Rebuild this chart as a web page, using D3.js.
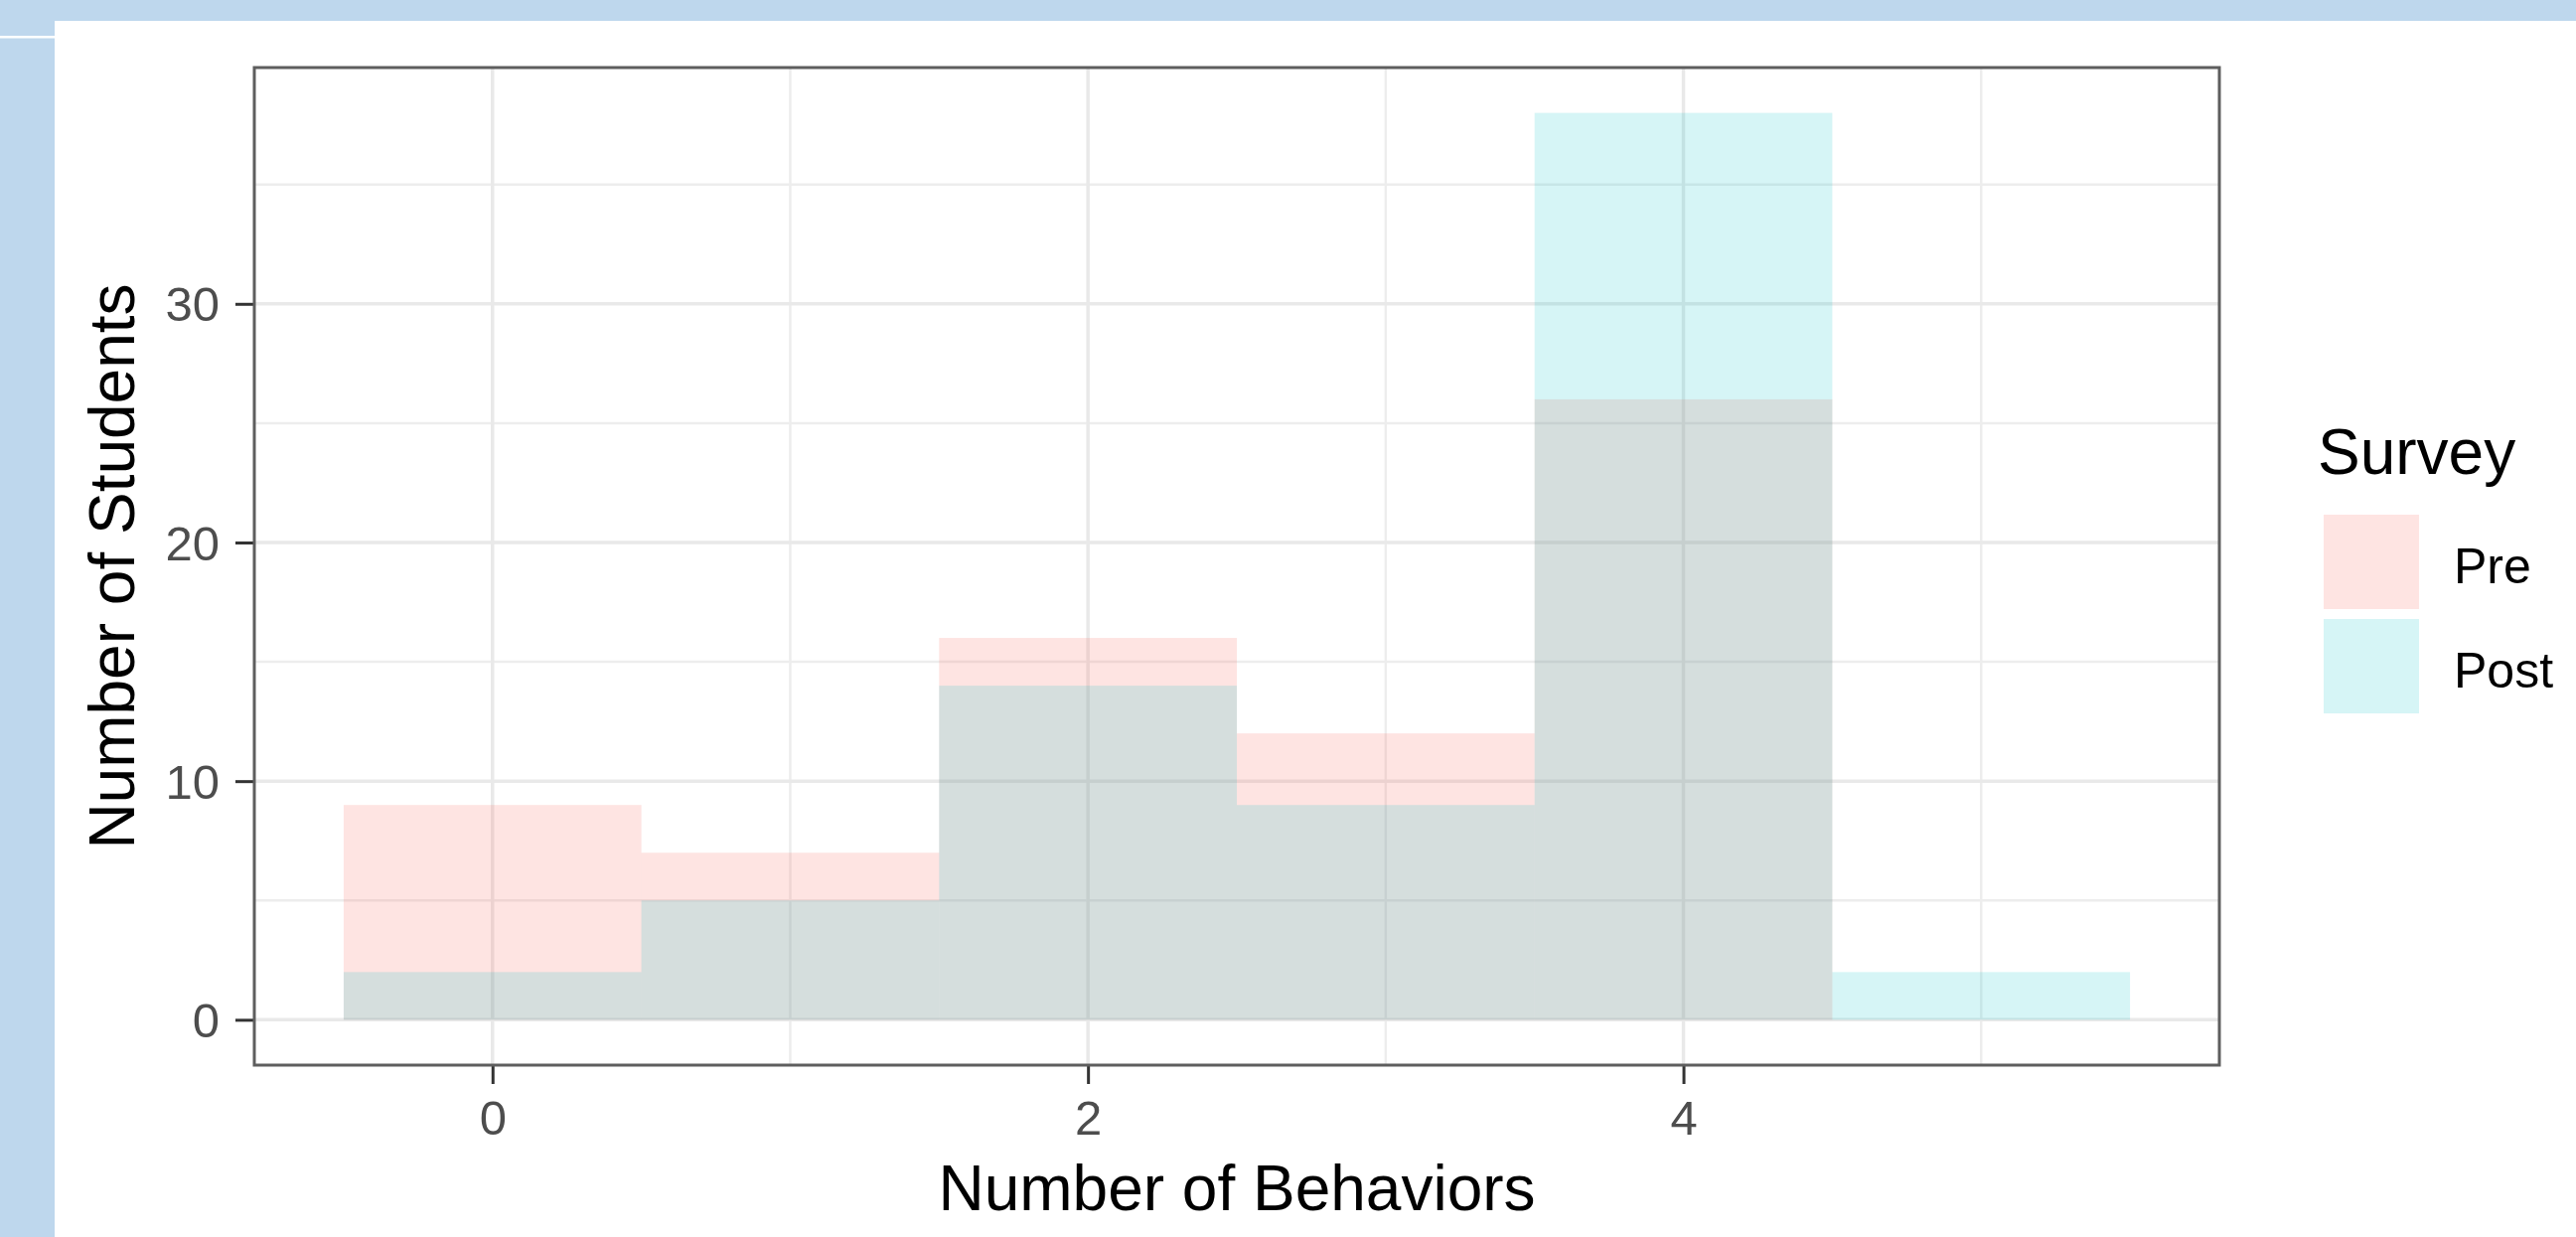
<!DOCTYPE html>
<html lang="en">
  <head>
    <meta charset="utf-8">
    <script src="https://cdn.jsdelivr.net/npm/d3@7"></script>
    <style>
      body {
        margin: 0;
        background: #fff;
      }
      svg {
        display: block;
        font-family: "Liberation Sans", Arial, Helvetica, sans-serif;
      }
      .tick line {
        stroke: #333;
        stroke-width: 3;
      }
      .tick text {
        fill: #4d4d4d;
        font-size: 49px;
      }
    </style>
  </head>
  <body>
    <svg></svg>
  </body>
  <script>

    // Data: counts per number of behaviors
    const behaviors = [0, 1, 2, 3, 4, 5];
    const preCounts = [9, 7, 16, 12, 26, 0];
    const postCounts = [2, 5, 14, 9, 38, 2];
    const surveys = ['Pre', 'Post'];
    const surveyColors = ['#F8766D', '#00BFC4'];
    const surveyAlpha = [0.2, 0.16];
    const xTicks = [0, 2, 4];
    const yTicks = [0, 10, 20, 30];

    const width = 2593;
    const height = 1245;
    const panel = { left: 256, right: 2234, top: 68, bottom: 1072 };

    const svg = d3.select('svg')
        .attr('width', width)
        .attr('height', height);

    // Slide background bits (blue frame)
    svg.append('rect').attr('x', 0).attr('y', 0).attr('width', width).attr('height', 21).attr('fill', '#bed7ed');
    svg.append('rect').attr('x', 0).attr('y', 0).attr('width', 55).attr('height', height).attr('fill', '#bed7ed');
    svg.append('rect').attr('x', 0).attr('y', 36).attr('width', 55).attr('height', 2.5).attr('fill', '#fff');

    // Scales (ggplot style 5% expansion)
    const x = d3.scaleLinear().domain([-0.8, 5.8]).range([panel.left, panel.right]);
    const y = d3.scaleLinear().domain([-1.9, 39.9]).range([panel.bottom, panel.top]);

    // Gridlines
    const grid = svg.append('g');
    const xMinor = [1, 3, 5];
    const yMinor = [5, 15, 25, 35];
    grid.selectAll('.vminor').data(xMinor).enter().append('line')
        .attr('x1', d => x(d)).attr('x2', d => x(d))
        .attr('y1', panel.top).attr('y2', panel.bottom)
        .attr('stroke', '#ededed').attr('stroke-width', 2.5);
    grid.selectAll('.hminor').data(yMinor).enter().append('line')
        .attr('y1', d => y(d)).attr('y2', d => y(d))
        .attr('x1', panel.left).attr('x2', panel.right)
        .attr('stroke', '#ededed').attr('stroke-width', 2.5);
    grid.selectAll('.vmajor').data(xTicks).enter().append('line')
        .attr('x1', d => x(d)).attr('x2', d => x(d))
        .attr('y1', panel.top).attr('y2', panel.bottom)
        .attr('stroke', '#e9e9e9').attr('stroke-width', 3.5);
    grid.selectAll('.hmajor').data(yTicks).enter().append('line')
        .attr('y1', d => y(d)).attr('y2', d => y(d))
        .attr('x1', panel.left).attr('x2', panel.right)
        .attr('stroke', '#e9e9e9').attr('stroke-width', 3.5);

    // Bars: Pre first, Post on top, both translucent
    const series = [
      { name: 'Pre', values: preCounts, color: surveyColors[0], alpha: surveyAlpha[0] },
      { name: 'Post', values: postCounts, color: surveyColors[1], alpha: surveyAlpha[1] }
    ];
    series.forEach(s => {
      svg.append('g').selectAll('rect')
          .data(behaviors.map((b, i) => ({ b: b, v: s.values[i] })).filter(d => d.v > 0))
        .enter().append('rect')
          .attr('x', d => x(d.b - 0.5))
          .attr('width', d => x(d.b + 0.5) - x(d.b - 0.5))
          .attr('y', d => y(d.v))
          .attr('height', d => y(0) - y(d.v))
          .attr('fill', s.color)
          .attr('fill-opacity', s.alpha);
    });

    // Axes
    svg.append('g')
        .attr('transform', 'translate(0,' + panel.bottom + ')')
        .call(d3.axisBottom(x).tickValues(xTicks).tickFormat(d3.format('d')).tickSize(19).tickPadding(16))
        .call(g => g.select('.domain').remove());
    svg.append('g')
        .attr('transform', 'translate(' + panel.left + ',0)')
        .call(d3.axisLeft(y).tickValues(yTicks).tickFormat(d3.format('d')).tickSize(19).tickPadding(16))
        .call(g => g.select('.domain').remove())
        .selectAll('text').attr('dy', '0.35em');

    // Panel border
    svg.append('rect')
        .attr('x', panel.left).attr('y', panel.top)
        .attr('width', panel.right - panel.left)
        .attr('height', panel.bottom - panel.top)
        .attr('fill', 'none')
        .attr('stroke', '#5e5e5e')
        .attr('stroke-width', 3);

    // Axis titles
    svg.append('text')
        .attr('x', (panel.left + panel.right) / 2)
        .attr('y', 1218)
        .attr('text-anchor', 'middle')
        .attr('font-size', 64)
        .attr('fill', '#000')
        .text('Number of Behaviors');
    svg.append('text')
        .attr('transform', 'translate(135,' + (panel.top + panel.bottom) / 2 + ') rotate(-90)')
        .attr('text-anchor', 'middle')
        .attr('font-size', 64)
        .attr('fill', '#000')
        .text('Number of Students');

    // Legend
    const legend = svg.append('g').attr('transform', 'translate(2333,0)');
    legend.append('text')
        .attr('x', 0).attr('y', 477)
        .attr('font-size', 64)
        .text('Survey');
    const items = legend.selectAll('.item')
        .data(surveys)
      .enter().append('g')
        .attr('transform', (d, i) => 'translate(6,' + (518 + i * 105) + ')');
    items.append('rect')
        .attr('width', 96).attr('height', 95)
        .attr('fill', (d, i) => surveyColors[i])
        .attr('fill-opacity', (d, i) => surveyAlpha[i]);
    items.append('text')
        .attr('x', 131).attr('y', 69)
        .attr('font-size', 50)
        .text(d => d);
  </script>
</html>
